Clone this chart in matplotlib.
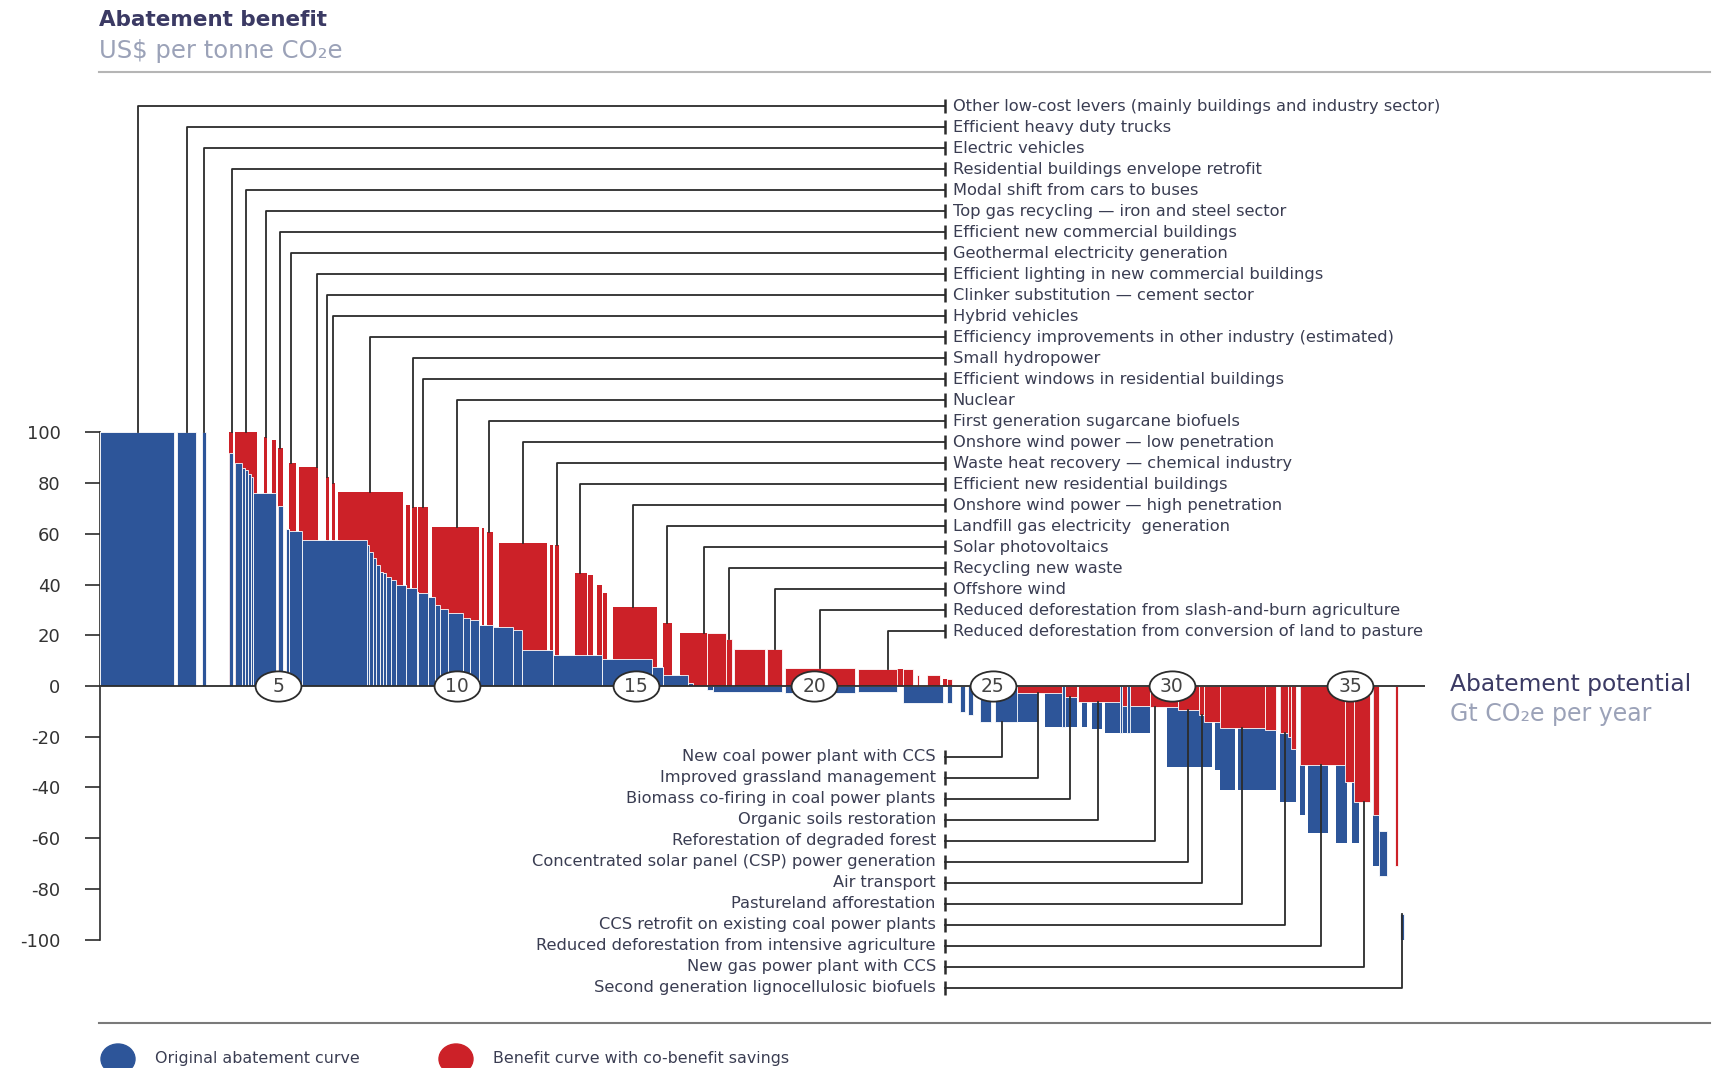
import numpy as np
import matplotlib
matplotlib.use("Agg")
import matplotlib.pyplot as plt
from matplotlib.path import Path
from matplotlib.transforms import Affine2D
from matplotlib.patches import Ellipse

plt.rcParams['font.family'] = ['DejaVu Sans']
plt.rcParams['axes.unicode_minus'] = False

# levers left to right: width (Gt CO2e per year), original benefit (blue),
# benefit with co-benefit savings (red); 0/0 entries are empty stretches
widths = [2.09, 0.07, 0.54, 0.16, 0.11, 0.66, 0.11, 0.05, 0.19, 0.09,
          0.09, 0.09, 0.05, 0.10, 0.20, 0.10, 0.12, 0.12, 0.06, 0.14,
          0.08, 0.08, 0.21, 0.07, 0.08, 0.46, 0.22, 0.09, 0.07, 0.09,
          0.09, 0.80, 0.07, 0.09, 0.11, 0.09, 0.09, 0.10, 0.14, 0.14,
          0.18, 0.08, 0.11, 0.06, 0.14, 0.04, 0.28, 0.10, 0.09, 0.14,
          0.23, 0.42, 0.19, 0.26, 0.06, 0.08, 0.06, 0.19, 0.17, 0.39,
          0.23, 0.70, 0.09, 0.10, 0.04, 0.11, 0.45, 0.33, 0.05, 0.14,
          0.09, 0.14, 0.05, 0.09, 0.17, 1.09, 0.14, 0.19, 0.23, 0.24,
          0.23, 0.14, 0.37, 0.18, 0.36, 0.17, 0.04, 0.88, 0.07, 0.41,
          0.08, 1.96, 0.09, 1.07, 0.19, 0.28, 0.09, 0.08, 0.20, 0.37,
          0.10, 0.09, 0.14, 0.24, 0.14, 0.09, 0.14, 0.19, 0.31, 0.10,
          0.61, 0.61, 0.18, 0.47, 0.10, 0.32, 0.05, 0.09, 0.14, 0.14,
          0.28, 0.09, 0.42, 0.05, 0.14, 0.09, 0.56, 0.47, 0.33, 0.56,
          0.14, 0.23, 0.09, 0.14, 0.42, 0.09, 0.47, 0.28, 0.32, 0.09,
          0.24, 0.09, 0.14, 0.10, 0.14, 0.09, 0.56, 0.23, 0.24, 0.06,
          0.13, 0.06, 0.15, 0.30, 0.09, 0.15, 0.02, 0.22, 0.23, 0.07,
          0.07, 0.10]
blue = [100, 0, 100, 0, 100, 0, 92, 0, 88, 86,
        85, 83.5, 82.5, 76, 76, 76, 76, 76, 0, 71,
        0, 62, 61, 61, 61, 57.5, 57.5, 57.5, 57.5, 57.5,
        57.5, 57.5, 55.6, 52.9, 50.3, 47.7, 45.1, 44.4, 43.1, 41.8,
        39.8, 39.8, 38.5, 38.5, 38.5, 37, 36.5, 35.2, 35.2, 31.9,
        30.5, 28.6, 27, 26, 24, 24, 24, 24, 23.4, 23.4,
        22, 14, 14, 14, 12.2, 12.2, 12.2, 12.2, 12.2, 12.2,
        12.2, 12.2, 10.5, 10.5, 10.5, 10.5, 7.6, 7.6, 4.3, 4.3,
        4.3, 1, 0, -1.5, -2.2, -2.2, -2.2, -2.2, -2.2, -2.2,
        0, -2.9, 0, -2.5, 0, -6.8, -6.8, -6.8, -6.8, -6.8,
        -6.8, 0, -6.8, 0, -10.1, 0, -11.4, 0, -14, 0,
        -14, -14, 0, -16, -16, -16, 0, 0, -16, 0,
        -17, 0, -18.7, -18.7, -18.7, -18.7, -18.7, 0, -31.8, -31.8,
        -31.8, -31.8, 0, -33, -41, 0, -41, -41, -41, 0,
        -45.6, -45.6, -45.6, 0, -50.9, 0, -58.1, 0, -62, -62,
        0, -62, -62, 0, 0, -71, 0, -75, 0, 0,
        0, -100]
red = [100, 0, 100, 0, 100, 0, 100, 0, 100, 100,
       100, 100, 100, 100, 76, 98, 76, 97, 0, 94,
       0, 62, 88, 61, 86.4, 86.4, 57.5, 82.5, 57.5, 79.9,
       57.5, 76.6, 76.6, 76.6, 76.6, 76.6, 76.6, 76.6, 76.6, 76.6,
       76.6, 39.8, 71.3, 38.5, 70.7, 37, 70.7, 35.2, 62.5, 62.5,
       62.5, 62.5, 62.5, 62.5, 24, 62.1, 24, 60.8, 23.4, 56.2,
       56.2, 56.2, 14, 55.6, 12.2, 55.6, 12.2, 44.4, 12.2, 43.8,
       12.2, 39.8, 10.5, 36.5, 10.5, 31, 31, 7.6, 24.7, 4.3,
       20.7, 20.7, 20.7, 20.7, 20.7, 18.7, 0, 14.5, 0, 14.5,
       0, 7.2, 0, 6.6, 6.6, 6.6, 0, 4.3, 0, 4.3,
       0, 2.6, 2.6, 0, 0, 0, 0, 0, 0, 0,
       0, -2.9, -2.9, -2.9, 0, -4.2, 0, -6.5, -6.5, -6.5,
       -6.5, -6.5, -6.5, 0, -8, 0, -8, -8.1, -8.1, -9.5,
       -11.4, -14, -14, -14, -16.7, -16.7, -16.7, -16.7, -17.3, 0,
       -18.7, -20, -25, 0, -31.2, -31.2, -31.2, -31.2, -31.2, -37.7,
       -37.7, -37.7, -45.6, -45.6, 0, -51, 0, 0, 0, -71,
       0, 0]

# blue pieces that hang below the axis instead of starting at it
float_x = [35.9, 36.45]
float_base = [-57, -90]

top_labels = [
    "Other low-cost levers (mainly buildings and industry sector)",
    "Efficient heavy duty trucks",
    "Electric vehicles",
    "Residential buildings envelope retrofit",
    "Modal shift from cars to buses",
    "Top gas recycling \u2014 iron and steel sector",
    "Efficient new commercial buildings",
    "Geothermal electricity generation",
    "Efficient lighting in new commercial buildings",
    "Clinker substitution \u2014 cement sector",
    "Hybrid vehicles",
    "Efficiency improvements in other industry (estimated)",
    "Small hydropower",
    "Efficient windows in residential buildings",
    "Nuclear",
    "First generation sugarcane biofuels",
    "Onshore wind power \u2014 low penetration",
    "Waste heat recovery \u2014 chemical industry",
    "Efficient new residential buildings",
    "Onshore wind power \u2014 high penetration",
    "Landfill gas electricity  generation",
    "Solar photovoltaics",
    "Recycling new waste",
    "Offshore wind",
    "Reduced deforestation from slash-and-burn agriculture",
    "Reduced deforestation from conversion of land to pasture",
]
top_x = [1.08, 2.44, 2.92, 3.70, 4.10, 4.66, 5.05, 5.35, 6.08, 6.37,
         6.52, 7.57, 8.76, 9.06, 10.0, 10.90, 11.86, 12.81, 13.44, 14.92,
         15.89, 16.91, 17.62, 18.90, 20.16, 22.07]

bottom_labels = [
    "New coal power plant with CCS",
    "Improved grassland management",
    "Biomass co-firing in coal power plants",
    "Organic soils restoration",
    "Reforestation of degraded forest",
    "Concentrated solar panel (CSP) power generation",
    "Air transport",
    "Pastureland afforestation",
    "CCS retrofit on existing coal power plants",
    "Reduced deforestation from intensive agriculture",
    "New gas power plant with CCS",
    "Second generation lignocellulosic biofuels",
]
bottom_x = [25.24, 26.27, 27.15, 27.95, 29.52, 30.47, 30.86, 31.96, 33.17,
            34.18, 35.38, 36.43]

yticks = list(range(-100, 101, 20))
xmarks = [5, 10, 15, 20, 25, 30, 35]

BLUE = '#2d5599'
RED = '#cc2128'
INK = '#2b2b2b'
TXT = '#3a3d52'
HEAD = '#3b3a64'
GREY = '#9ba2b8'

W, H = 1713, 1068
fig = plt.figure(figsize=(W / 100, H / 100), dpi=100)

# pixel overlay for header, footer and legend
ax0 = fig.add_axes([0, 0, 1, 1])
ax0.set_xlim(0, W)
ax0.set_ylim(H, 0)
ax0.axis('off')

# main axes: 0 Gt at x=99.5 px, 0 benefit at y=686 px
gt_px = 35.74
unit_px = 2.537
xmax = 37.1
ax = fig.add_axes([99.5 / W, (H - (686 + 100 * unit_px)) / H,
                   xmax * gt_px / W, 200 * unit_px / H])
ax.patch.set_visible(False)
ax.set_xlim(0, xmax)
ax.set_ylim(-100, 100)

starts = np.concatenate([[0], np.cumsum(widths)[:-1]])
fbase = {}
for fx, fb in zip(float_x, float_base):
    fbase[int(np.searchsorted(starts, fx, side='right') - 1)] = fb

# the longer bar of each lever goes behind, the shorter one in front
back = {'b': [], 'r': []}
front = {'b': [], 'r': []}
for i, (x, w, b, r) in enumerate(zip(starts, widths, blue, red)):
    if i in fbase:
        front['b'].append((x, w, fbase[i], b))
        if r:
            front['r'].append((x, w, 0, r))
    elif b >= 0 and r > b:
        back['r'].append((x, w, 0, r))
        if b > 0:
            front['b'].append((x, w, 0, b))
    elif r < 0 and b < r:
        back['b'].append((x, w, 0, b))
        front['r'].append((x, w, 0, r))
    else:
        if b:
            front['b'].append((x, w, 0, b))
        if r:
            front['r'].append((x, w, 0, r))


def merged(segs):
    # join touching pieces of equal height into one block
    out = []
    for x, w, lo, hi in segs:
        if out and abs(out[-1][0] + out[-1][1] - x) < 1e-6 \
                and out[-1][2] == lo and out[-1][3] == hi:
            out[-1] = (out[-1][0], out[-1][1] + w, lo, hi)
        else:
            out.append((x, w, lo, hi))
    return np.array(out)


for key, col in (('r', RED), ('b', BLUE)):
    s = merged(back[key])
    ax.bar(s[:, 0], s[:, 3] - s[:, 2], width=s[:, 1], bottom=s[:, 2],
           align='edge', color=col, linewidth=0, zorder=2)
for key, col in (('r', RED), ('b', BLUE)):
    s = merged(front[key])
    ax.bar(s[:, 0], s[:, 3] - s[:, 2], width=s[:, 1], bottom=s[:, 2],
           align='edge', color=col, edgecolor='white', linewidth=0.6,
           zorder=3)

ax.axhline(0, color=INK, lw=1.3, zorder=4)


def lever_end(x):
    i = int(np.searchsorted(starts, x, side='right') - 1)
    if red[i] != 0:
        return red[i]
    return fbase.get(i, blue[i])


tick_x = 23.66
top_y = 228.6 - 8.28 * np.arange(len(top_labels))
bot_y = -27.9 - 8.27 * np.arange(len(bottom_labels))
label_size = 11.7

for name, x, y in zip(top_labels, top_x, top_y):
    ax.plot([x, x, tick_x], [lever_end(x), y, y], color=INK, lw=1.3,
            clip_on=False, zorder=5)
    ax.plot([tick_x], [y], marker='|', ms=10, mew=1.8, color=INK,
            clip_on=False, zorder=5)
    ax.text(23.87, y, name, ha='left', va='center', fontsize=label_size,
            color=TXT, clip_on=False)

for name, x, y in zip(bottom_labels, bottom_x, bot_y):
    ax.plot([x, x, tick_x], [lever_end(x), y, y], color=INK, lw=1.3,
            clip_on=False, zorder=5)
    ax.plot([tick_x], [y], marker='|', ms=10, mew=1.8, color=INK,
            clip_on=False, zorder=5)
    ax.text(23.40, y, name, ha='right', va='center', fontsize=label_size,
            color=TXT, clip_on=False)

ell = Path.unit_circle().transformed(Affine2D().scale(1, 0.66))
for v in xmarks:
    ax.plot(v, 0, marker=ell, ms=33, mfc='white', mec=INK, mew=1.3,
            zorder=6, clip_on=False)
    ax.text(v, 0, str(v), ha='center', va='center', fontsize=13.5,
            color='#444444', zorder=7)

for side in ('top', 'right', 'bottom'):
    ax.spines[side].set_visible(False)
ax.spines['left'].set_color(INK)
ax.spines['left'].set_linewidth(1.2)
ax.set_xticks([])
ax.set_yticks(yticks)
ax.set_yticklabels([str(t) for t in yticks])
ax.tick_params(axis='y', direction='out', length=11, width=1.2, color=INK,
               labelsize=13, labelcolor='#333333', pad=17)

# header
ax0.text(99, 20, 'Abatement benefit', fontsize=15.5, fontweight='bold',
         color=HEAD, va='center')
ax0.text(99, 51, 'US$ per tonne CO\u2082e', fontsize=17.5, color=GREY,
         va='center')
ax0.plot([99, 1710], [72, 72], color='#b5b5b5', lw=1.5)

# axis title on the right
ax0.text(1450, 685, 'Abatement potential', fontsize=16.8, color=HEAD,
         va='center')
ax0.text(1450, 714, 'Gt CO\u2082e per year', fontsize=17, color=GREY,
         va='center')

# footer legend
ax0.plot([99, 1710], [1022.6, 1022.6], color='#7a7a7a', lw=1.5)
ax0.add_patch(Ellipse((118, 1059), 34, 30, color=BLUE))
ax0.text(155, 1059, 'Original abatement curve', fontsize=11.4, color=TXT,
         va='center')
ax0.add_patch(Ellipse((456, 1059), 34, 30, color=RED))
ax0.text(493, 1059, 'Benefit curve with co-benefit savings', fontsize=11.4,
         color=TXT, va='center')

fig.savefig('out.png', dpi=100)
